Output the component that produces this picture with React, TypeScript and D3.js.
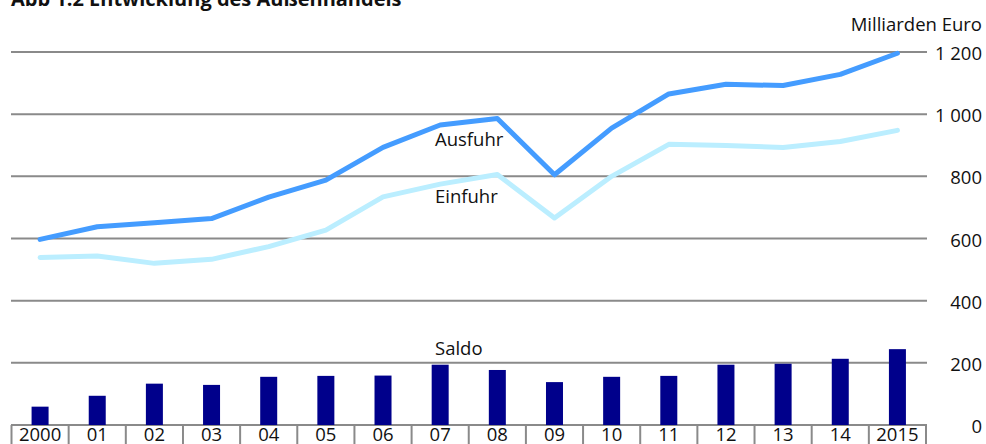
import React from "react";
import * as d3 from "d3";

const years = ["2000","01","02","03","04","05","06","07","08","09","10","11","12","13","14","2015"];
const ausfuhr = [597, 638, 651, 664, 733, 788, 893, 965, 986, 805, 955, 1065, 1096, 1092, 1128, 1196];
const einfuhr = [539, 544, 520, 533, 574, 627, 734, 775, 806, 666, 800, 903, 899, 893, 912, 948];
const saldo = [59, 94, 133, 129, 155, 158, 159, 194, 177, 138, 155, 158, 194, 197, 213, 244];
const yTicks = [0, 200, 400, 600, 800, 1000, 1200];
const tickLabels = ["0", "200", "400", "600", "800", "1 000", "1 200"];

const W = 986, H = 444;
const FONT = "'Open Sans', sans-serif";

export default function App() {
  const x = d3.scaleBand<string>().domain(years).range([11.5, 926]).padding(0);
  const y = d3.scaleLinear().domain([0, 1200]).range([425, 52]);
  const cx = (d: string) => (x(d) as number) + x.bandwidth() / 2;
  const line = d3.line<number>().x((_, i) => cx(years[i])).y((v) => y(v));
  const barW = 17;
  const bounds = [...years.map((d) => x(d) as number), 926];

  return (
    <svg width={W} height={H} style={{ position: "absolute", left: 0, top: 0, background: "#fff" }} fontFamily={FONT}>
      <text x={11} y={6} fontSize={20} fontWeight="bold" fill="#111">Abb 1.2 Entwicklung des Außenhandels</text>
      <text x={982} y={31} fontSize={18.5} textAnchor="end" fill="#111">Milliarden Euro</text>
      {yTicks.map((t, i) => (
        <g key={t}>
          <line x1={11} x2={927} y1={y(t)} y2={y(t)} stroke="#8a8a8a" strokeWidth={2} />
          <text x={982} y={y(t) + 8} fontSize={18.5} textAnchor="end" fill="#111">{tickLabels[i]}</text>
        </g>
      ))}
      {bounds.map((b, i) => (
        <line key={i} x1={b} x2={b} y1={425} y2={444} stroke="#8a8a8a" strokeWidth={2} />
      ))}
      {saldo.map((v, i) => (
        <rect key={i} x={cx(years[i]) - barW / 2} y={y(v)} width={barW} height={y(0) - y(v)} fill="#00008b" />
      ))}
      <path d={line(einfuhr) || ""} fill="none" stroke="#bbeeff" strokeWidth={5} strokeLinecap="round" strokeLinejoin="round" />
      <path d={line(ausfuhr) || ""} fill="none" stroke="#449cff" strokeWidth={5} strokeLinecap="round" strokeLinejoin="round" />
      {years.map((d) => (
        <text key={d} x={cx(d)} y={441} fontSize={18.5} textAnchor="middle" fill="#111">{d}</text>
      ))}
      <text x={435} y={146} fontSize={18.5} fill="#111">Ausfuhr</text>
      <text x={435} y={203} fontSize={18.5} fill="#111">Einfuhr</text>
      <text x={435} y={355} fontSize={18.5} fill="#111">Saldo</text>
    </svg>
  );
}
